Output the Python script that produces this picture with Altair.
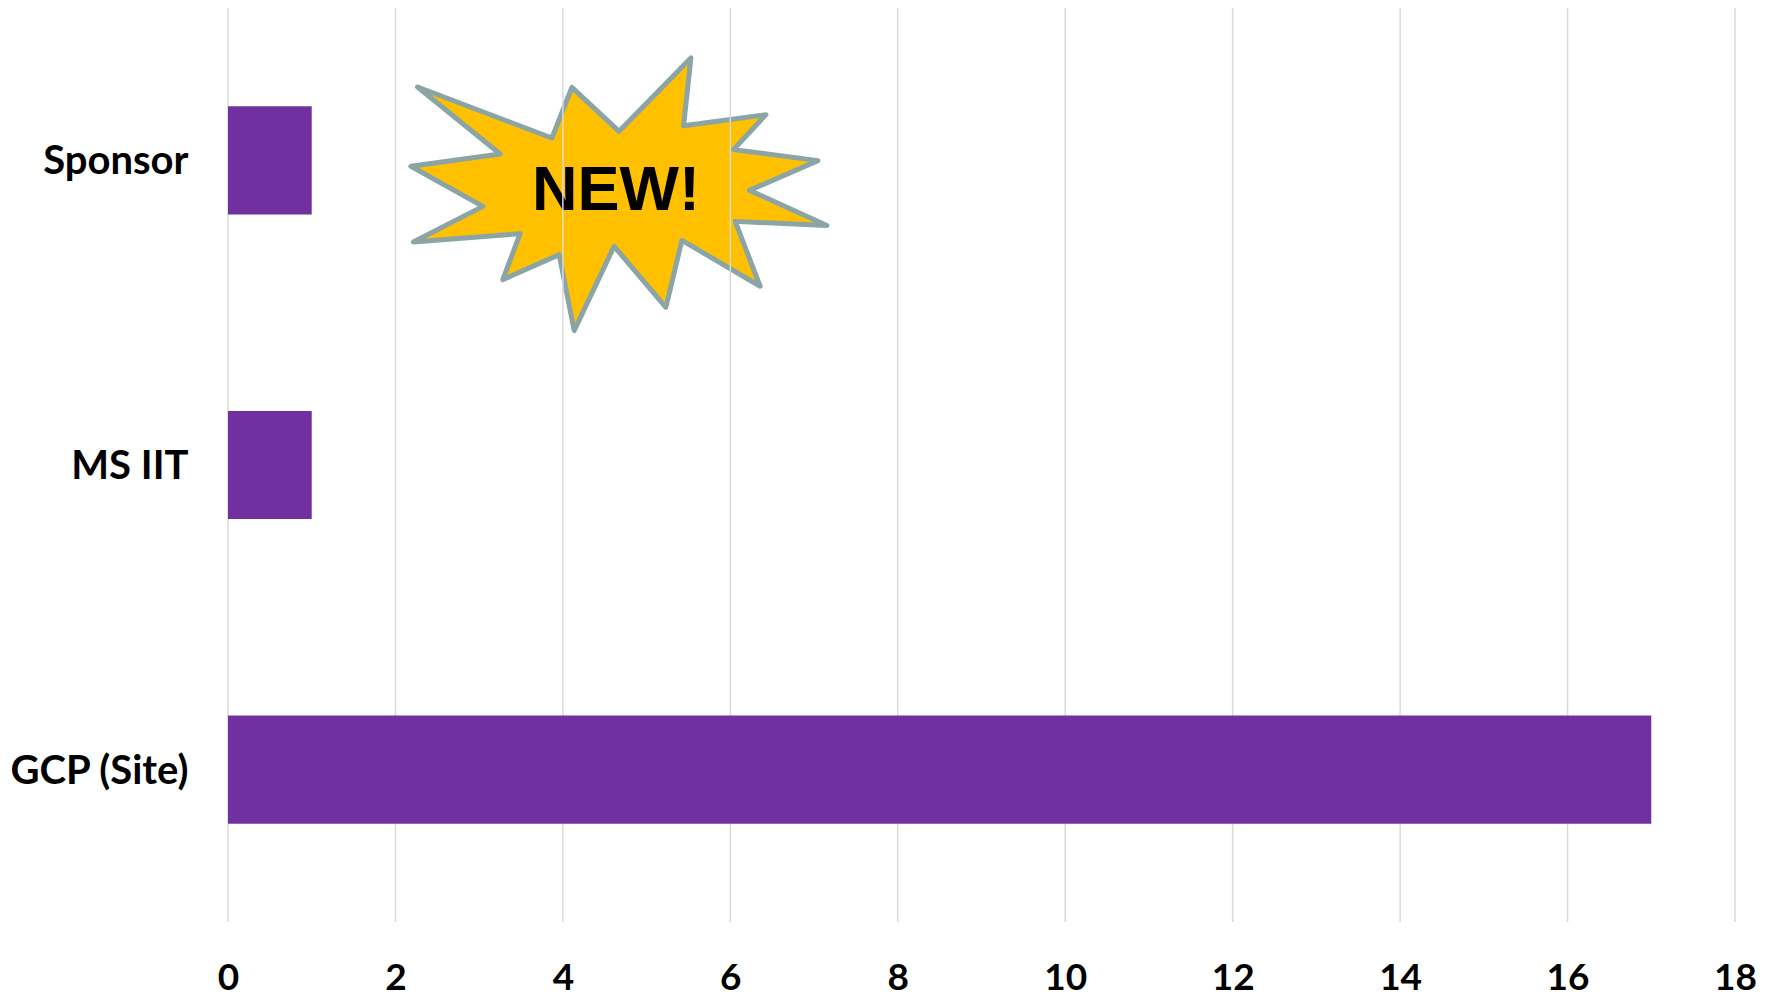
import altair as alt
import pandas as pd

# ---- data ----
categories = ["Sponsor", "MS IIT", "GCP (Site)"]
values = [1, 1, 17]
tick_values = [0, 2, 4, 6, 8, 10, 12, 14, 16, 18]

badge_text = ["NEW!"]
badge_x = [4.669]
badge_text_x = [4.634]
badge_cat = ["Sponsor"]

bars_df = pd.DataFrame({"cat": categories, "val": values})
grid_df = pd.DataFrame({"v": tick_values})
badge_df = pd.DataFrame({"cat": badge_cat, "x": badge_x, "tx": badge_text_x, "label": badge_text})

# ---- starburst outline (style of the badge symbol, unit coordinates) ----
star_pts = [
    (0.346, -0.656), (0.311, -0.330), (0.707, -0.383), (0.551, -0.215),
    (0.957, -0.162), (0.628, -0.019), (1.000, 0.150), (0.559, 0.130),
    (0.679, 0.442), (0.303, 0.221), (0.226, 0.543), (-0.023, 0.250),
    (-0.215, 0.655), (-0.287, 0.290), (-0.558, 0.410), (-0.475, 0.189),
    (-0.988, 0.229), (-0.654, 0.058), (-1.000, -0.135), (-0.571, -0.194),
    (-0.968, -0.516), (-0.322, -0.271), (-0.226, -0.514), (0.001, -0.303),
]
star_path = "M" + "L".join(f"{a:.3f},{b:.3f}" for a, b in star_pts) + "Z"

W, H = 1507, 914
xscale = alt.Scale(domain=[0, 18], nice=False, zero=True)
yscale = alt.Scale(domain=categories, paddingInner=0.645, paddingOuter=0.3225)

x_axis = alt.Axis(values=tick_values, format="d", labelFlush=False,
                  grid=False, domain=False, ticks=False,
                  labelFont="Lato", labelFontWeight="bold", labelFontSize=37,
                  labelColor="#000000", labelPadding=38, title=None)
y_axis = alt.Axis(grid=False, domain=False, ticks=False,
                  labelFont="Lato", labelFontWeight="bold", labelFontSize=40,
                  labelColor="#000000", labelPadding=40, labelOffset=2, title=None)

star = alt.Chart(badge_df).mark_point(
    shape=star_path, size=416 * 416, filled=True, fill="#FFC000",
    stroke="#8BA4A6", strokeWidth=5, strokeJoin="round", opacity=1,
    yOffset=34,
).encode(
    x=alt.X("x:Q", scale=xscale, axis=x_axis),
    y=alt.Y("cat:N", scale=yscale, axis=y_axis, sort=categories),
)

star_text = alt.Chart(badge_df).mark_text(
    font="Liberation Sans", fontWeight="bold", fontSize=63, color="#000000",
    align="center", baseline="alphabetic", dy=50,
).encode(
    x=alt.X("tx:Q", scale=xscale),
    y=alt.Y("cat:N", scale=yscale, sort=categories),
    text="label:N",
)

grid = alt.Chart(grid_df).mark_rule(color="#D9D9D9", strokeWidth=1.5).encode(
    x=alt.X("v:Q", scale=xscale)
)

bars = alt.Chart(bars_df).mark_bar(color="#7030A0").encode(
    x=alt.X("val:Q", scale=xscale),
    y=alt.Y("cat:N", scale=yscale, sort=categories),
)

chart = alt.layer(star, star_text, grid, bars).properties(
    width=W, height=H,
    autosize=alt.AutoSizeParams(type="none"),
    padding={"left": 220, "top": 0, "right": 30, "bottom": 74},
    background="white",
).configure_view(strokeWidth=0)

chart.save("out.html", embed_options={"renderer": "svg", "actions": False})
